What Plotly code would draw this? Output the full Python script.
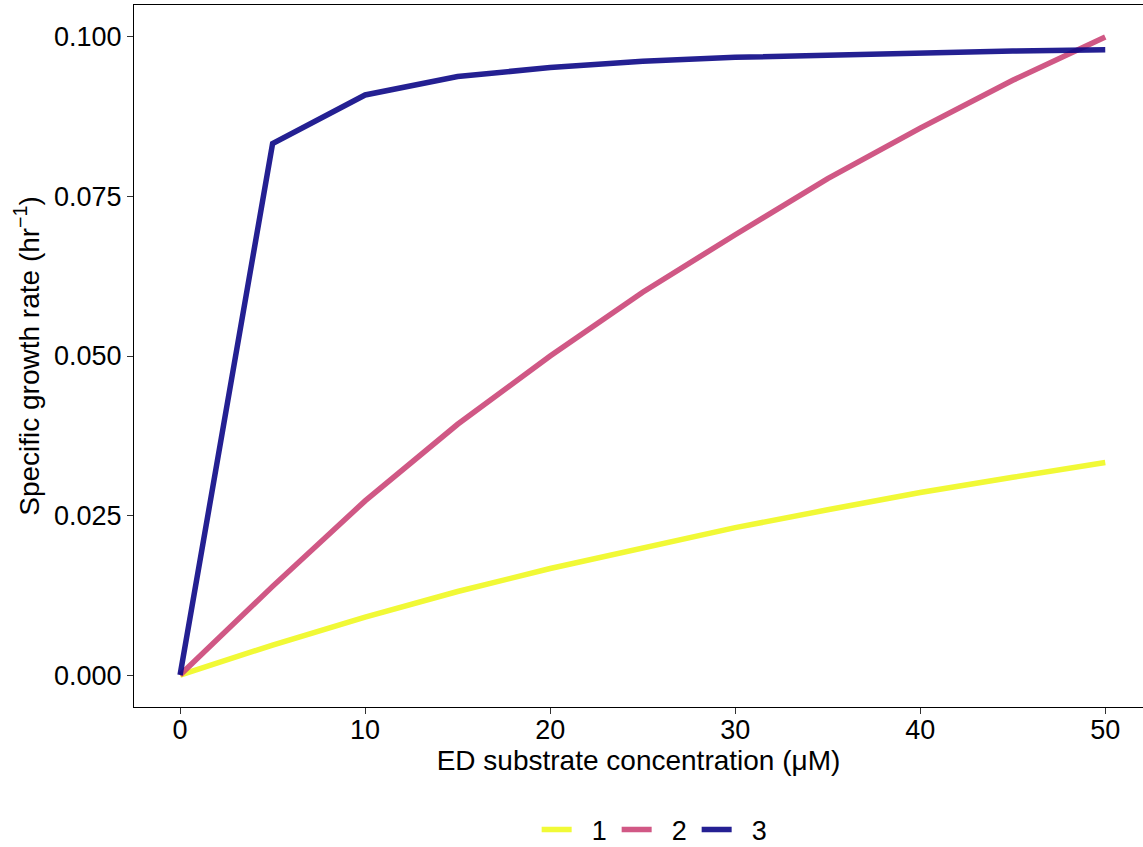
import plotly.graph_objects as go

# Substrate concentrations (µM) and specific growth rates (hr^-1) per group
conc = [0, 5, 10, 15, 20, 25, 30, 35, 40, 45, 50]
rate_1 = [0.0, 0.0047, 0.0091, 0.0131, 0.0167, 0.0200, 0.0231, 0.0259, 0.0286, 0.0310, 0.0333]
rate_2 = [0.0, 0.0139, 0.0273, 0.0393, 0.0500, 0.0600, 0.0690, 0.0778, 0.0857, 0.0932, 0.1000]
rate_3 = [0.0, 0.0833, 0.0909, 0.0938, 0.0952, 0.0962, 0.0968, 0.0972, 0.0976, 0.0978, 0.0980]

group_names = ["1", "2", "3"]
group_colors = ["#F0F921", "#CC4678", "#0D0887"]

y_ticks = [0.0, 0.025, 0.05, 0.075, 0.1]
y_tick_text = ["0.000", "0.025", "0.050", "0.075", "0.100"]
x_ticks = [0, 10, 20, 30, 40, 50]

FONT = "Liberation Sans, Arial, sans-serif"

fig = go.Figure()
for name, vals, col in zip(group_names, [rate_1, rate_2, rate_3], group_colors):
    fig.add_trace(go.Scatter(
        x=conc, y=vals, mode="lines",
        name="\u00a0\u00a0" + name,  # pad the legend label away from its key
        line=dict(color=col, width=5.5), opacity=0.9,
    ))

fig.update_layout(
    width=1143, height=847,
    margin=dict(l=134, r=0, t=5, b=140),
    paper_bgcolor="white", plot_bgcolor="white",
    font=dict(family=FONT, size=27, color="black"),
    showlegend=True,
    legend=dict(
        orientation="h", x=0.518, xanchor="center", xref="paper",
        y=0.02, yanchor="middle", yref="container",
        font=dict(size=27, color="black"),
        itemwidth=30, entrywidth=35, tracegroupgap=0,
    ),
    xaxis=dict(
        range=[-2.49, 52.04], tickvals=x_ticks,
        showgrid=False, zeroline=False, automargin=False,
        showline=True, linecolor="black", linewidth=1.2, mirror=True,
        ticks="outside", ticklen=6, tickcolor="#333333", tickwidth=1.2,
        ticklabelstandoff=-8,
        tickfont=dict(size=27, color="black"),
        title=dict(text="ED substrate concentration (\u03bcM)", font=dict(size=28), standoff=6),
    ),
    yaxis=dict(
        range=[-0.005, 0.105], tickvals=y_ticks, ticktext=y_tick_text,
        showgrid=False, zeroline=False, automargin=False,
        showline=True, linecolor="black", linewidth=1.2, mirror=False,
        ticks="outside", ticklen=6, tickcolor="#333333", tickwidth=1.2,
        tickfont=dict(size=27, color="black"),
        title=dict(text="Specific growth rate (hr<sup>\u22121</sup>)", font=dict(size=28), standoff=6),
    ),
)

fig.write_html("out.html")
